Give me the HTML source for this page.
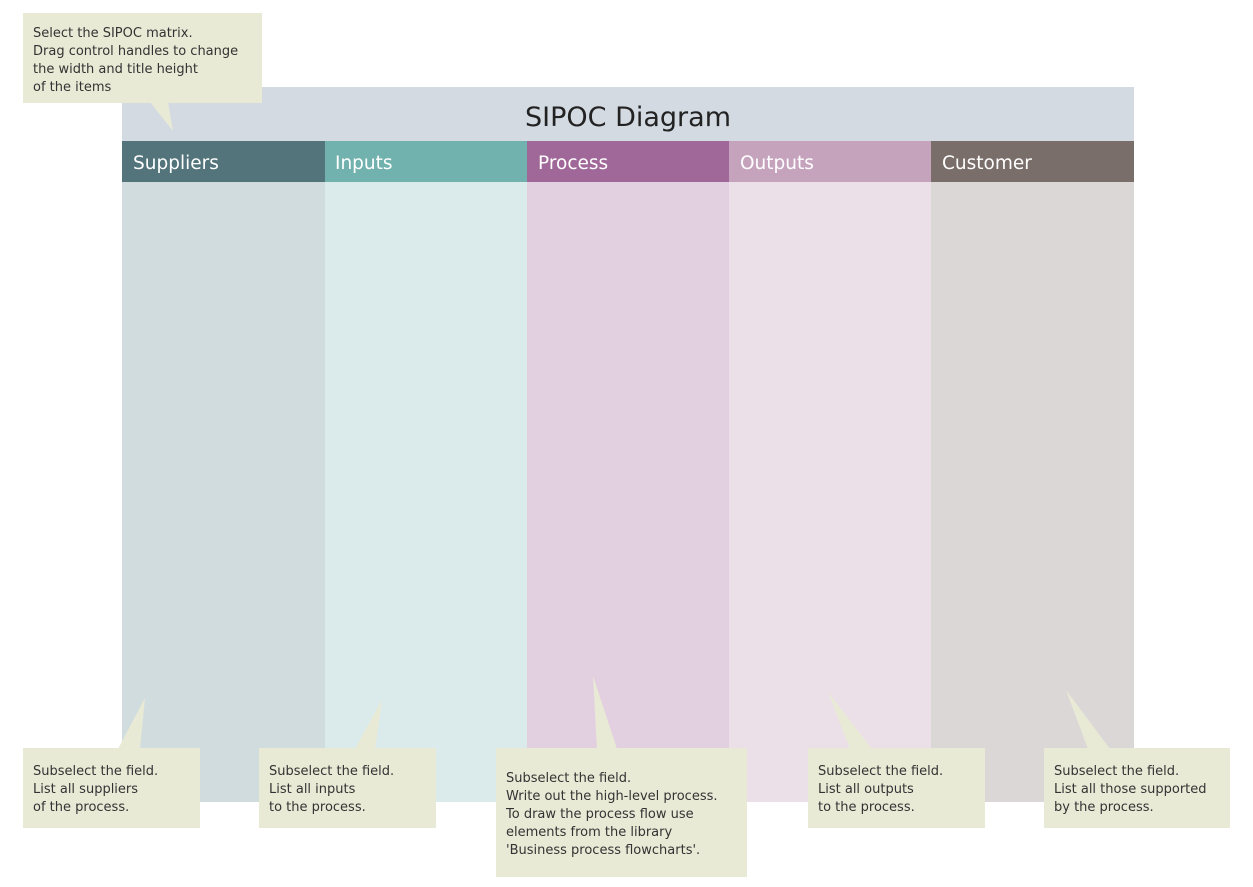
<!DOCTYPE html>
<html><head><meta charset="utf-8"><style>
body{margin:0;background:#fff;}
svg{display:block}
text{font-family:"DejaVu Sans","Liberation Sans",sans-serif;}
.c{font-size:13px;fill:#333;}
.h{font-size:18.5px;fill:#fff;}
</style></head><body>
<svg width="1253" height="887" viewBox="0 0 1253 887">
<rect x="122" y="87" width="1012" height="54" fill="#d3dae2"/>
<text x="628" y="126" text-anchor="middle" style="font-size:27px;fill:#222">SIPOC Diagram</text>
<rect x="122" y="141" width="203" height="41" fill="#52747a"/>
<rect x="325" y="141" width="202" height="41" fill="#72b2ae"/>
<rect x="527" y="141" width="202" height="41" fill="#a06898"/>
<rect x="729" y="141" width="202" height="41" fill="#c6a3bd"/>
<rect x="931" y="141" width="203" height="41" fill="#7a6e6a"/>
<rect x="122" y="182" width="203" height="620" fill="#d0dcde"/>
<rect x="325" y="182" width="202" height="620" fill="#dbeaea"/>
<rect x="527" y="182" width="202" height="620" fill="#e2d0e0"/>
<rect x="729" y="182" width="202" height="620" fill="#ebe0e8"/>
<rect x="931" y="182" width="203" height="620" fill="#dbd7d6"/>
<text class="h" x="133" y="169">Suppliers</text>
<text class="h" x="335" y="169">Inputs</text>
<text class="h" x="538" y="169">Process</text>
<text class="h" x="740" y="169">Outputs</text>
<text class="h" x="942" y="169">Customer</text>
<g fill="#e9ead6">
<rect x="23" y="13" width="239" height="90"/>
<polygon points="150,102 168,102 173,131"/>
<rect x="23" y="748" width="177" height="80"/>
<polygon points="118,749 140,749 145,698"/>
<rect x="259" y="748" width="177" height="80"/>
<polygon points="355,749 375,749 382,700"/>
<rect x="496" y="748" width="251" height="129"/>
<polygon points="597,749 617,749 593,676"/>
<rect x="808" y="748" width="177" height="80"/>
<polygon points="850,749 872,749 828,692"/>
<rect x="1044" y="748" width="186" height="80"/>
<polygon points="1088,749 1110,749 1066,690"/>
</g>
<g class="c">
<text x="33" y="37">Select the SIPOC matrix.</text>
<text x="33" y="55">Drag control handles to change</text>
<text x="33" y="73">the width and title height</text>
<text x="33" y="91">of the items</text>
<text x="33" y="775">Subselect the field.</text>
<text x="33" y="793">List all suppliers</text>
<text x="33" y="811">of the process.</text>
<text x="269" y="775">Subselect the field.</text>
<text x="269" y="793">List all inputs</text>
<text x="269" y="811">to the process.</text>
<text x="506" y="782">Subselect the field.</text>
<text x="506" y="800">Write out the high-level process.</text>
<text x="506" y="818">To draw the process flow use</text>
<text x="506" y="836">elements from the library</text>
<text x="506" y="854">'Business process flowcharts'.</text>
<text x="818" y="775">Subselect the field.</text>
<text x="818" y="793">List all outputs</text>
<text x="818" y="811">to the process.</text>
<text x="1054" y="775">Subselect the field.</text>
<text x="1054" y="793">List all those supported</text>
<text x="1054" y="811">by the process.</text>
</g>
</svg>
</body></html>
